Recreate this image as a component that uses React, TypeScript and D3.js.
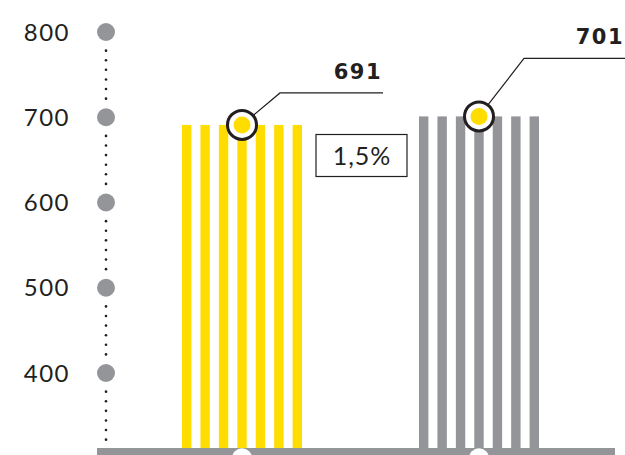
import React from 'react';
import * as d3 from 'd3';

// data
const categories = ['prev', 'curr'];
const values = [691, 701];
const barColors = ['#FFDD00', '#939598'];
const tickValues = [400, 500, 600, 700, 800];
const changeLabel = '1,5%';

const W = 625;
const H = 455;

const App = () => {
  // y scale (800 -> 32, 400 -> 373)
  const y = d3.scaleLinear().domain([400, 800]).range([373, 32]);
  const base = 300;

  const x = d3.scalePoint<string>().domain(categories).range([242, 479]);

  // 7 stripes per bar
  const stripes = d3.range(7);
  const sx = d3.scaleBand<number>().domain(stripes).range([-60, 60]).paddingInner(0.49);

  const axisX = 106;
  const segTicks = [base, ...tickValues];

  // dots between ticks: 6 per gap, centered
  const dots: number[] = [];
  for (let i = 0; i < segTicks.length - 1; i++) {
    const a = y(segTicks[i]);
    const b = y(segTicks[i + 1]);
    const mid = (a + b) / 2;
    for (let k = 0; k < 6; k++) dots.push(mid + (k - 2.5) * 9.6);
  }

  // leader lines to the value labels
  const leaders = [
    { dx: 38, dy: -32, end: 383 },
    { dx: 45, dy: -58, end: 625 },
  ];

  const numFont = 'Lato, "Open Sans", sans-serif';

  return (
    <svg width={W} height={H} style={{ position: 'absolute', left: 0, top: 0 }}>
      <rect width={W} height={H} fill="#fff" />

      {/* y axis */}
      {dots.map((d, i) => (
        <circle key={'d' + i} cx={axisX} cy={d} r={1.3} fill="#231F20" />
      ))}
      {tickValues.map(t => (
        <g key={t}>
          <circle cx={axisX} cy={y(t)} r={9} fill="#939598" />
          <text
            x={70}
            y={y(t)}
            dy="0.36em"
            textAnchor="end"
            fontFamily={numFont}
            fontWeight={400}
            fontSize={24}
            letterSpacing={1.5}
            fill="#231F20"
          >
            {t}
          </text>
        </g>
      ))}

      {/* bars */}
      {categories.map((c, i) => (
        <g key={c} transform={`translate(${x(c)},0)`}>
          {stripes.map(s => (
            <rect
              key={s}
              x={sx(s)}
              y={y(values[i])}
              width={sx.bandwidth()}
              height={y(base) - y(values[i])}
              fill={barColors[i]}
            />
          ))}
        </g>
      ))}

      {/* baseline */}
      <rect x={97} y={448} width={518} height={H - 448} fill="#939598" />
      {categories.map(c => (
        <circle key={'b' + c} cx={x(c)} cy={y(base)} r={10} fill="#fff" />
      ))}

      {/* markers + leaders + value labels */}
      {categories.map((c, i) => {
        const cx = x(c) as number;
        const cy = y(values[i]);
        const l = leaders[i];
        return (
          <g key={'m' + c}>
            <polyline
              points={`${cx},${cy} ${cx + l.dx},${cy + l.dy} ${l.end},${cy + l.dy}`}
              fill="none"
              stroke="#231F20"
              strokeWidth={1.2}
            />
            <circle cx={cx} cy={cy} r={14.5} fill="#fff" stroke="#231F20" strokeWidth={3} />
            <circle cx={cx} cy={cy} r={8.5} fill="#FFDD00" />
            <text
              x={l.end - 1}
              y={cy + l.dy - 14}
              textAnchor="end"
              fontFamily='"DejaVu Sans", sans-serif'
              fontWeight={700}
              fontSize={21}
              letterSpacing={1.5}
              fill="#231F20"
            >
              {values[i]}
            </text>
          </g>
        );
      })}

      {/* change box */}
      <rect x={316} y={134.5} width={91} height={42} fill="#fff" stroke="#231F20" strokeWidth={1.2} />
      <text
        x={362}
        y={156}
        dy="0.36em"
        textAnchor="middle"
        fontFamily={numFont}
        fontWeight={400}
        fontSize={25}
        letterSpacing={1}
        fill="#231F20"
      >
        {changeLabel}
      </text>
    </svg>
  );
};

export default App;
